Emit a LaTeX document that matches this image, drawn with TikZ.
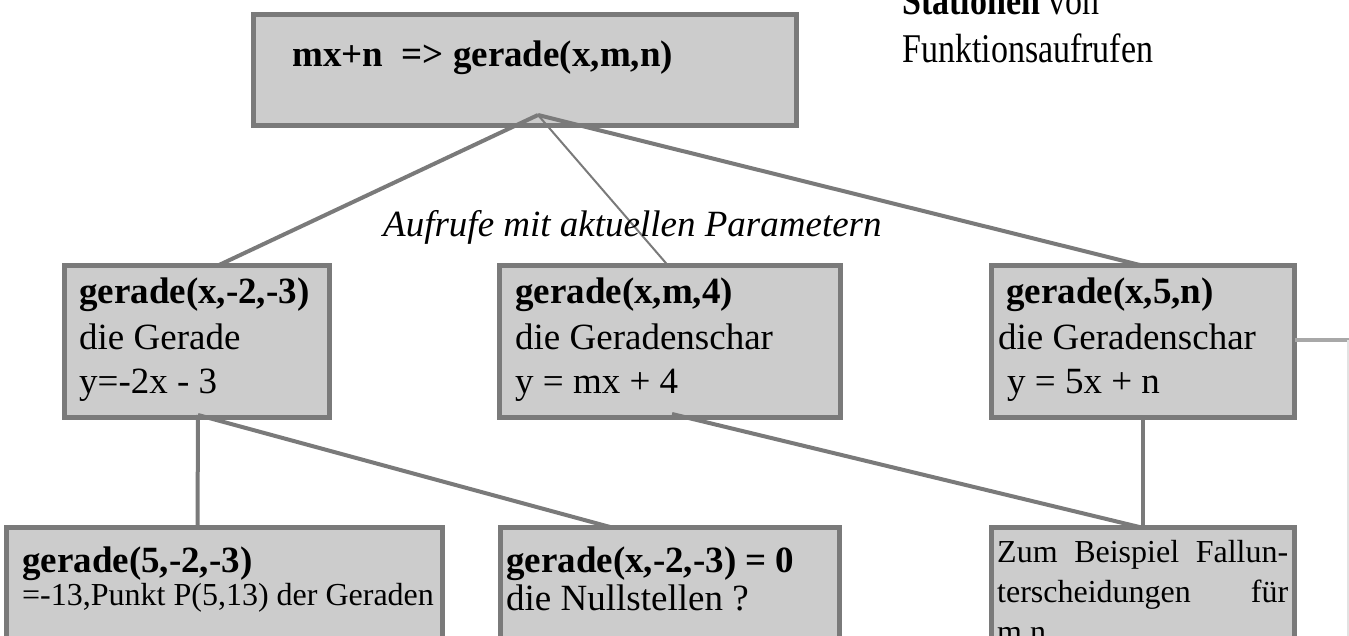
\documentclass[tikz,border=0pt]{standalone}
\usepackage{fontspec}
\setmainfont{Liberation Serif}
\definecolor{boxfill}{HTML}{CCCCCC}
\definecolor{boxline}{HTML}{7A7A7A}
\definecolor{sideline}{HTML}{A8A8A8}
\definecolor{faintline}{HTML}{E2E2E2}
\begin{document}
\begin{tikzpicture}[x=1pt,y=-1pt,
  box/.style={draw=boxline, fill=boxfill, line width=5pt, rectangle, anchor=north west, inner sep=0pt, outer sep=0pt},
  conn/.style={draw=boxline, line width=4pt},
  thinconn/.style={draw=boxline, line width=2pt},
  txt/.style={anchor=base west, inner sep=0pt, font=\fontsize{37}{45}\selectfont},
  txtb/.style={anchor=base west, inner sep=0pt, font=\bfseries\fontsize{37}{45}\selectfont},
  txtsm/.style={anchor=base west, inner sep=0pt, font=\fontsize{32}{40}\selectfont},
]
\useasboundingbox (0,0) rectangle (1349,636);
\clip (0,0) rectangle (1349,636);

% boxes
\node[box, minimum width=543pt, minimum height=111pt] (top) at (253.5,14.5) {};
\node[box, minimum width=265pt, minimum height=152pt] (lm) at (64.5,265.5) {};
\node[box, minimum width=341pt, minimum height=152pt] (mm) at (499.5,265.5) {};
\node[box, minimum width=303pt, minimum height=152pt] (rm) at (991.5,265.5) {};
\node[box, minimum width=436pt, minimum height=200pt] (lb) at (6.5,527.5) {};
\node[box, minimum width=339pt, minimum height=200pt] (mb) at (500.5,527.5) {};
\node[box, minimum width=303pt, minimum height=200pt] (rb) at (991.5,527.5) {};

% connectors
\coordinate (apex) at (538,115);
\draw[conn] (apex) -- ([xshift=153.5pt]lm.north west);
\draw[thinconn] (apex) -- ([xshift=168.5pt]mm.north west);
\draw[conn] (apex) -- ([xshift=150.5pt]rm.north west);
\draw[conn] ([xshift=133.5pt,yshift=2.5pt]lm.south west) -- ([xshift=191pt]lb.north west);
\draw[conn] ([xshift=133.5pt,yshift=2.5pt]lm.south west) -- ([xshift=111.5pt]mb.north west);
\draw[conn] ([xshift=172.5pt,yshift=3.5pt]mm.south west) -- ([xshift=150pt]rb.north west);
\draw[conn] ([xshift=151.5pt]rm.south west) -- ([xshift=151.5pt]rb.north west);
\coordinate (sidecorner) at (1348,340);
\coordinate (sideend) at (1348,640);
\draw[draw=sideline, line width=4pt] ([yshift=-74.5pt]rm.north east) -- (sidecorner -| 1350,0);
\draw[draw=faintline, line width=1.5pt] (sidecorner) -- (sideend);

% texts
\node[txtb] (ttop) at (292,67) {mx+n\ \ => gerade(x,m,n)};
\node[anchor=base west, inner sep=0pt, font=\fontsize{34}{48}\selectfont] (st1) at (902,15) {\scalebox{1}[1.2]{\textbf{Stationen} von}};
\node[anchor=base west, inner sep=0pt, font=\fontsize{34}{48}\selectfont] (st2) at (902,63) {\scalebox{1}[1.2]{Funktionsaufrufen}};
\node[txt, font=\itshape\fontsize{37}{45}\selectfont] (auf) at (383,237) {Aufrufe mit aktuellen Parametern};

\node[txtb] (lm1) at (79,303) {gerade(x,-2,-3)};
\node[txt] (lm2) at (79,349) {die Gerade};
\node[txt] (lm3) at (79,393) {y=-2x - 3};

\node[txtb] (mm1) at (515,303) {gerade(x,m,4)};
\node[txt] (mm2) at (515,349) {die Geradenschar};
\node[txt] (mm3) at (515,393) {y = mx + 4};

\node[txtb] (rm1) at (1006,303) {gerade(x,5,n)};
\node[txt] (rm2) at (998,349) {die Geradenschar};
\node[txt] (rm3) at (1007,393) {y = 5x + n};

\node[txtb] (lb1) at (22,572) {gerade(5,-2,-3)};
\node[txtsm] (lb2) at (22,605) {=-13,Punkt P(5,13) der Geraden};

\node[txtb] (mb1) at (506,572) {gerade(x,-2,-3) = 0};
\node[txt] (mb2) at (506,610) {die Nullstellen ?};

\node[txtsm] (rb1) at (997,562) {\hbox to 291pt{Zum\hfill Beispiel\hfill Fallun-}};
\node[txtsm] (rb2) at (997,602) {\hbox to 291pt{terscheidungen\hfill für}};
\node[txtsm] (rb3) at (997,642) {m,n};
\end{tikzpicture}
\end{document}
